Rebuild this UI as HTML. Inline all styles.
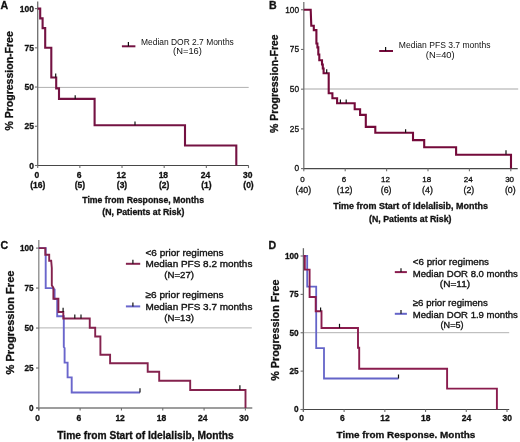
<!DOCTYPE html>
<html><head><meta charset="utf-8"><style>
html,body{margin:0;padding:0;background:#fff;}
svg{display:block;}
text{font-family:"Liberation Sans",sans-serif;fill:#111;}
text[font-weight="bold"]{stroke:#111;stroke-width:0.3px;}
svg{filter:blur(0.3px);}
</style></head><body>
<svg width="520" height="442" viewBox="0 0 520 442">
<rect width="520" height="442" fill="#fff"/>
<text x="0.6" y="9.3" font-size="10.6" font-weight="bold" text-anchor="start">A</text>
<line x1="37.7" y1="87.4" x2="248.7" y2="87.4" stroke="#b0b0b0" stroke-width="1.0"/>
<line x1="37.7" y1="1.5" x2="37.7" y2="166.1" stroke="#6e6e6e" stroke-width="1.3"/>
<line x1="37.1" y1="165.5" x2="248.7" y2="165.5" stroke="#484848" stroke-width="1.2"/>
<line x1="34.9" y1="8.6" x2="37.7" y2="8.6" stroke="#6e6e6e" stroke-width="1.1"/>
<text x="34" y="11.6" font-size="8.5" font-weight="bold" text-anchor="end">100</text>
<line x1="34.9" y1="47.83" x2="37.7" y2="47.83" stroke="#6e6e6e" stroke-width="1.1"/>
<text x="34" y="50.83" font-size="8.5" font-weight="bold" text-anchor="end">75</text>
<line x1="34.9" y1="87.05" x2="37.7" y2="87.05" stroke="#6e6e6e" stroke-width="1.1"/>
<text x="34" y="90.05" font-size="8.5" font-weight="bold" text-anchor="end">50</text>
<line x1="34.9" y1="126.27" x2="37.7" y2="126.27" stroke="#6e6e6e" stroke-width="1.1"/>
<text x="34" y="129.27" font-size="8.5" font-weight="bold" text-anchor="end">25</text>
<line x1="34.9" y1="165.5" x2="37.7" y2="165.5" stroke="#6e6e6e" stroke-width="1.1"/>
<text x="34" y="168.5" font-size="8.5" font-weight="bold" text-anchor="end">0</text>
<line x1="37.7" y1="165.5" x2="37.7" y2="168.1" stroke="#6e6e6e" stroke-width="1.1"/>
<text x="36.9" y="177.9" font-size="8.5" font-weight="bold" text-anchor="middle">0</text>
<text x="37.7" y="188.3" font-size="8.5" font-weight="bold" text-anchor="middle">(16)</text>
<line x1="79.86" y1="165.5" x2="79.86" y2="168.1" stroke="#6e6e6e" stroke-width="1.1"/>
<text x="79.06" y="177.9" font-size="8.5" font-weight="bold" text-anchor="middle">6</text>
<text x="79.86" y="188.3" font-size="8.5" font-weight="bold" text-anchor="middle">(5)</text>
<line x1="122.02" y1="165.5" x2="122.02" y2="168.1" stroke="#6e6e6e" stroke-width="1.1"/>
<text x="121.22" y="177.9" font-size="8.5" font-weight="bold" text-anchor="middle">12</text>
<text x="122.02" y="188.3" font-size="8.5" font-weight="bold" text-anchor="middle">(3)</text>
<line x1="164.18" y1="165.5" x2="164.18" y2="168.1" stroke="#6e6e6e" stroke-width="1.1"/>
<text x="163.38" y="177.9" font-size="8.5" font-weight="bold" text-anchor="middle">18</text>
<text x="164.18" y="188.3" font-size="8.5" font-weight="bold" text-anchor="middle">(2)</text>
<line x1="206.34" y1="165.5" x2="206.34" y2="168.1" stroke="#6e6e6e" stroke-width="1.1"/>
<text x="205.54" y="177.9" font-size="8.5" font-weight="bold" text-anchor="middle">24</text>
<text x="206.34" y="188.3" font-size="8.5" font-weight="bold" text-anchor="middle">(1)</text>
<line x1="248.5" y1="165.5" x2="248.5" y2="168.1" stroke="#6e6e6e" stroke-width="1.1"/>
<text x="247.7" y="177.9" font-size="8.5" font-weight="bold" text-anchor="middle">30</text>
<text x="248.5" y="188.3" font-size="8.5" font-weight="bold" text-anchor="middle">(0)</text>
<text x="82.3" y="202.8" font-size="8.7" font-weight="bold" text-anchor="start" textLength="121.7" lengthAdjust="spacingAndGlyphs">Time from Response, Months</text>
<text x="102.3" y="215.4" font-size="8.7" font-weight="bold" text-anchor="start" textLength="82.1" lengthAdjust="spacingAndGlyphs">(N, Patients at Risk)</text>
<text transform="translate(13.2,80.9) rotate(-90)" font-size="10.4" font-weight="bold" text-anchor="middle" textLength="99.3" lengthAdjust="spacingAndGlyphs">% Progression-Free</text>
<polyline points="37.7,8.6 40.2,8.6 40.2,18.4 42.6,18.4 42.6,28.1 45.2,28.1 45.2,47.8 51.3,47.8 51.3,77.5 56.2,77.5 56.2,88.4 59,88.4 59,98.9 94.6,98.9 94.6,125.3 185,125.3 185,145.5 236.3,145.5 236.3,165.5" fill="none" stroke="#741242" stroke-width="2.1" stroke-linejoin="miter" stroke-linecap="butt"/>
<line x1="55.7" y1="73.4" x2="55.7" y2="77.5" stroke="#111" stroke-width="1.2"/>
<line x1="75.2" y1="95.2" x2="75.2" y2="98.9" stroke="#111" stroke-width="1.2"/>
<line x1="135" y1="121.6" x2="135" y2="125.3" stroke="#111" stroke-width="1.2"/>
<line x1="121.9" y1="46.3" x2="135.4" y2="46.3" stroke="#741242" stroke-width="2.0"/>
<line x1="128.4" y1="42" x2="128.4" y2="46.3" stroke="#111" stroke-width="1.2"/>
<text x="141" y="44.6" font-size="8.8" font-weight="normal" text-anchor="start" textLength="92.8" lengthAdjust="spacingAndGlyphs">Median DOR 2.7 Months</text>
<text x="173.1" y="54" font-size="8.8" font-weight="normal" text-anchor="start" textLength="28.8" lengthAdjust="spacingAndGlyphs">(N=16)</text>
<text x="268.9" y="9.3" font-size="10.6" font-weight="bold" text-anchor="start">B</text>
<line x1="303.8" y1="89" x2="518.2" y2="89" stroke="#a8a8a8" stroke-width="1.1"/>
<line x1="303.8" y1="2" x2="303.8" y2="169.2" stroke="#767676" stroke-width="1.3"/>
<line x1="303.2" y1="168.6" x2="517.7" y2="168.6" stroke="#484848" stroke-width="1.2"/>
<line x1="301" y1="9.75" x2="303.8" y2="9.75" stroke="#6e6e6e" stroke-width="1.1"/>
<text x="299" y="12.55" font-size="8.3" font-weight="normal" text-anchor="end" stroke="#111" stroke-width="0.3">100</text>
<line x1="301" y1="49.46" x2="303.8" y2="49.46" stroke="#6e6e6e" stroke-width="1.1"/>
<text x="299" y="52.26" font-size="8.3" font-weight="normal" text-anchor="end" stroke="#111" stroke-width="0.3">75</text>
<line x1="301" y1="89.17" x2="303.8" y2="89.17" stroke="#6e6e6e" stroke-width="1.1"/>
<text x="299" y="91.97" font-size="8.3" font-weight="normal" text-anchor="end" stroke="#111" stroke-width="0.3">50</text>
<line x1="301" y1="128.89" x2="303.8" y2="128.89" stroke="#6e6e6e" stroke-width="1.1"/>
<text x="299" y="131.69" font-size="8.3" font-weight="normal" text-anchor="end" stroke="#111" stroke-width="0.3">25</text>
<line x1="301" y1="168.6" x2="303.8" y2="168.6" stroke="#6e6e6e" stroke-width="1.1"/>
<text x="299" y="171.4" font-size="8.3" font-weight="normal" text-anchor="end" stroke="#111" stroke-width="0.3">0</text>
<line x1="303.8" y1="168.6" x2="303.8" y2="171.2" stroke="#6e6e6e" stroke-width="1.1"/>
<text x="302.6" y="182.1" font-size="8.0" font-weight="normal" text-anchor="middle" stroke="#111" stroke-width="0.3">0</text>
<text x="303.3" y="193" font-size="8.8" font-weight="normal" text-anchor="middle" stroke="#111" stroke-width="0.3">(40)</text>
<line x1="345.2" y1="168.6" x2="345.2" y2="171.2" stroke="#6e6e6e" stroke-width="1.1"/>
<text x="344" y="182.1" font-size="8.0" font-weight="normal" text-anchor="middle" stroke="#111" stroke-width="0.3">6</text>
<text x="344.7" y="193" font-size="8.8" font-weight="normal" text-anchor="middle" stroke="#111" stroke-width="0.3">(12)</text>
<line x1="386.6" y1="168.6" x2="386.6" y2="171.2" stroke="#6e6e6e" stroke-width="1.1"/>
<text x="385.4" y="182.1" font-size="8.0" font-weight="normal" text-anchor="middle" stroke="#111" stroke-width="0.3">12</text>
<text x="386.1" y="193" font-size="8.8" font-weight="normal" text-anchor="middle" stroke="#111" stroke-width="0.3">(6)</text>
<line x1="428" y1="168.6" x2="428" y2="171.2" stroke="#6e6e6e" stroke-width="1.1"/>
<text x="426.8" y="182.1" font-size="8.0" font-weight="normal" text-anchor="middle" stroke="#111" stroke-width="0.3">18</text>
<text x="427.5" y="193" font-size="8.8" font-weight="normal" text-anchor="middle" stroke="#111" stroke-width="0.3">(4)</text>
<line x1="469.4" y1="168.6" x2="469.4" y2="171.2" stroke="#6e6e6e" stroke-width="1.1"/>
<text x="468.2" y="182.1" font-size="8.0" font-weight="normal" text-anchor="middle" stroke="#111" stroke-width="0.3">24</text>
<text x="468.9" y="193" font-size="8.8" font-weight="normal" text-anchor="middle" stroke="#111" stroke-width="0.3">(2)</text>
<line x1="510.8" y1="168.6" x2="510.8" y2="171.2" stroke="#6e6e6e" stroke-width="1.1"/>
<text x="509.6" y="182.1" font-size="8.0" font-weight="normal" text-anchor="middle" stroke="#111" stroke-width="0.3">30</text>
<text x="510.3" y="193" font-size="8.8" font-weight="normal" text-anchor="middle" stroke="#111" stroke-width="0.3">(0)</text>
<text x="333.3" y="208.8" font-size="8.6" font-weight="bold" text-anchor="start" textLength="154.6" lengthAdjust="spacingAndGlyphs">Time from Start of Idelalisib, Months</text>
<text x="369.1" y="222" font-size="8.6" font-weight="bold" text-anchor="start" textLength="82.4" lengthAdjust="spacingAndGlyphs">(N, Patients at Risk)</text>
<text transform="translate(278.4,83.7) rotate(-90)" font-size="10.4" font-weight="bold" text-anchor="middle" textLength="98.5" lengthAdjust="spacingAndGlyphs">% Progression-Free</text>
<polyline points="303.8,9.75 310.7,9.75 311.3,25.7 313.8,25.7 313.8,30.1 316.4,30.1 316.4,43.5 317.4,43.5 317.4,47.4 318.3,47.4 318.3,54.5 319.3,54.5 319.3,60.2 322,60.2 322,64.5 322.8,64.5 322.8,68.5 323.6,68.5 323.6,73.2 328.7,73.2 328.7,93.2 332.4,93.2 332.4,98.2 337.1,98.2 337.1,103.2 354.7,103.2 354.7,109.2 360.1,109.2 360.1,114.9 365.8,114.9 365.8,126.9 375.3,126.9 375.3,132.8 413,132.8 413,140.1 424.2,140.1 424.2,147.3 456.1,147.3 456.1,154.8 511,154.8 511,168.6" fill="none" stroke="#740a3a" stroke-width="2.1" stroke-linejoin="miter" stroke-linecap="butt"/>
<line x1="326.7" y1="69.2" x2="326.7" y2="72.9" stroke="#111" stroke-width="1.2"/>
<line x1="340.4" y1="99.5" x2="340.4" y2="103.2" stroke="#111" stroke-width="1.2"/>
<line x1="346.2" y1="99.5" x2="346.2" y2="103.2" stroke="#111" stroke-width="1.2"/>
<line x1="405.6" y1="129.2" x2="405.6" y2="132.8" stroke="#111" stroke-width="1.2"/>
<line x1="506" y1="150.3" x2="506" y2="154.5" stroke="#111" stroke-width="1.2"/>
<line x1="379.2" y1="51" x2="393" y2="51" stroke="#740a3a" stroke-width="2.0"/>
<line x1="385.6" y1="47.1" x2="385.6" y2="51" stroke="#111" stroke-width="1.2"/>
<text x="398.8" y="48.1" font-size="8.8" font-weight="normal" text-anchor="start" textLength="91.7" lengthAdjust="spacingAndGlyphs">Median PFS 3.7 months</text>
<text x="425.8" y="58" font-size="8.8" font-weight="normal" text-anchor="start" textLength="28.9" lengthAdjust="spacingAndGlyphs">(N=40)</text>
<text x="0.4" y="249" font-size="10.6" font-weight="bold" text-anchor="start">C</text>
<line x1="38.8" y1="327.9" x2="251.8" y2="327.9" stroke="#b2b2b2" stroke-width="1.0"/>
<line x1="38.8" y1="240" x2="38.8" y2="410.4" stroke="#888" stroke-width="1.3"/>
<line x1="36.2" y1="408" x2="252.3" y2="408" stroke="#7c7c7c" stroke-width="1.3"/>
<line x1="36" y1="248.1" x2="38.8" y2="248.1" stroke="#6e6e6e" stroke-width="1.1"/>
<text x="33.6" y="251" font-size="8.2" font-weight="bold" text-anchor="end">100</text>
<line x1="36" y1="288.07" x2="38.8" y2="288.07" stroke="#6e6e6e" stroke-width="1.1"/>
<text x="33.6" y="290.97" font-size="8.2" font-weight="bold" text-anchor="end">75</text>
<line x1="36" y1="328.05" x2="38.8" y2="328.05" stroke="#6e6e6e" stroke-width="1.1"/>
<text x="33.6" y="330.95" font-size="8.2" font-weight="bold" text-anchor="end">50</text>
<line x1="36" y1="368.02" x2="38.8" y2="368.02" stroke="#6e6e6e" stroke-width="1.1"/>
<text x="33.6" y="370.92" font-size="8.2" font-weight="bold" text-anchor="end">25</text>
<line x1="36" y1="408" x2="38.8" y2="408" stroke="#6e6e6e" stroke-width="1.1"/>
<text x="33.6" y="410.9" font-size="8.2" font-weight="bold" text-anchor="end">0</text>
<line x1="38.8" y1="408" x2="38.8" y2="410.6" stroke="#6e6e6e" stroke-width="1.1"/>
<text x="37.5" y="420.9" font-size="8.5" font-weight="bold" text-anchor="middle">0</text>
<line x1="80.12" y1="408" x2="80.12" y2="410.6" stroke="#6e6e6e" stroke-width="1.1"/>
<text x="78.82" y="420.9" font-size="8.5" font-weight="bold" text-anchor="middle">6</text>
<line x1="121.44" y1="408" x2="121.44" y2="410.6" stroke="#6e6e6e" stroke-width="1.1"/>
<text x="120.14" y="420.9" font-size="8.5" font-weight="bold" text-anchor="middle">12</text>
<line x1="162.76" y1="408" x2="162.76" y2="410.6" stroke="#6e6e6e" stroke-width="1.1"/>
<text x="161.46" y="420.9" font-size="8.5" font-weight="bold" text-anchor="middle">18</text>
<line x1="204.08" y1="408" x2="204.08" y2="410.6" stroke="#6e6e6e" stroke-width="1.1"/>
<text x="202.78" y="420.9" font-size="8.5" font-weight="bold" text-anchor="middle">24</text>
<line x1="245.4" y1="408" x2="245.4" y2="410.6" stroke="#6e6e6e" stroke-width="1.1"/>
<text x="244.1" y="420.9" font-size="8.5" font-weight="bold" text-anchor="middle">30</text>
<text x="57.3" y="438.6" font-size="10.4" font-weight="bold" text-anchor="start" textLength="176.5" lengthAdjust="spacingAndGlyphs">Time from Start of Idelalisib, Months</text>
<text transform="translate(14.2,322.5) rotate(-90)" font-size="10.8" font-weight="bold" text-anchor="middle" textLength="103.9" lengthAdjust="spacingAndGlyphs">% Progression Free</text>
<polyline points="38.8,248.1 45.7,248.1 45.7,288.1 52.6,288.1 54.6,289.5 54.6,299 57.2,299 57.2,316.3 63.8,316.3 63.8,347 64.6,348 64.6,362.6 67.6,362.6 67.6,377.4 71.7,377.4 71.7,392.5 140,392.5" fill="none" stroke="#6a66cc" stroke-width="1.9" stroke-linejoin="miter" stroke-linecap="butt"/>
<polyline points="38.8,248.1 45.3,248.1 45.3,254.7 49.2,254.7 49.2,260.7 51.2,260.7 51.8,268 51.8,285.4 53.4,287.8 53.4,298.7 58.4,298.7 58.4,312 63.3,312 63.3,318.5 89.75,318.5 89.75,327.8 95.2,327.8 95.2,336.5 100.4,336.5 100.4,354.7 110.1,354.7 110.1,363.2 147.7,363.2 147.7,371.7 159.2,371.7 159.2,380.8 190.2,380.8 190.2,390 245.5,390 245.5,408" fill="none" stroke="#84224e" stroke-width="1.9" stroke-linejoin="miter" stroke-linecap="butt"/>
<line x1="63.1" y1="307.8" x2="63.1" y2="312" stroke="#111" stroke-width="1.2"/>
<line x1="74.8" y1="314.6" x2="74.8" y2="318.5" stroke="#111" stroke-width="1.2"/>
<line x1="81" y1="314.6" x2="81" y2="318.5" stroke="#111" stroke-width="1.2"/>
<line x1="239.9" y1="385.2" x2="239.9" y2="390" stroke="#111" stroke-width="1.2"/>
<line x1="140" y1="388.2" x2="140" y2="392.5" stroke="#111" stroke-width="1.2"/>
<line x1="125.9" y1="263.8" x2="140.2" y2="263.8" stroke="#84224e" stroke-width="2.0"/>
<line x1="132.9" y1="259.8" x2="132.9" y2="263.8" stroke="#111" stroke-width="1.2"/>
<line x1="125.9" y1="306.4" x2="140.2" y2="306.4" stroke="#6a66cc" stroke-width="2.0"/>
<line x1="132.9" y1="302.4" x2="132.9" y2="306.4" stroke="#111" stroke-width="1.2"/>
<text x="145.5" y="255.5" font-size="9.6" font-weight="normal" text-anchor="start" textLength="78.1" lengthAdjust="spacingAndGlyphs" stroke="#111" stroke-width="0.35">&lt;6 prior regimens</text>
<text x="145.5" y="267.1" font-size="9.6" font-weight="normal" text-anchor="start" textLength="106.9" lengthAdjust="spacingAndGlyphs" stroke="#111" stroke-width="0.35">Median PFS 8.2 months</text>
<text x="164.2" y="278.3" font-size="9.6" font-weight="normal" text-anchor="start" textLength="29.8" lengthAdjust="spacingAndGlyphs" stroke="#111" stroke-width="0.35">(N=27)</text>
<text x="145.5" y="298.3" font-size="9.6" font-weight="normal" text-anchor="start" textLength="78.1" lengthAdjust="spacingAndGlyphs" stroke="#111" stroke-width="0.35">≥6 prior regimens</text>
<text x="145.5" y="310.2" font-size="9.6" font-weight="normal" text-anchor="start" textLength="106.9" lengthAdjust="spacingAndGlyphs" stroke="#111" stroke-width="0.35">Median PFS 3.7 months</text>
<text x="164.2" y="321.3" font-size="9.6" font-weight="normal" text-anchor="start" textLength="29.8" lengthAdjust="spacingAndGlyphs" stroke="#111" stroke-width="0.35">(N=13)</text>
<text x="268.4" y="249" font-size="10.6" font-weight="bold" text-anchor="start">D</text>
<line x1="303.4" y1="332.7" x2="509.2" y2="332.7" stroke="#b2b2b2" stroke-width="1.0"/>
<line x1="303.4" y1="248.2" x2="303.4" y2="411.7" stroke="#666" stroke-width="1.3"/>
<line x1="300.8" y1="409.5" x2="509.2" y2="409.5" stroke="#464646" stroke-width="1.2"/>
<line x1="300.6" y1="256" x2="303.4" y2="256" stroke="#6e6e6e" stroke-width="1.1"/>
<text x="298.6" y="258.9" font-size="8.2" font-weight="bold" text-anchor="end">100</text>
<line x1="300.6" y1="294.38" x2="303.4" y2="294.38" stroke="#6e6e6e" stroke-width="1.1"/>
<text x="298.6" y="297.27" font-size="8.2" font-weight="bold" text-anchor="end">75</text>
<line x1="300.6" y1="332.75" x2="303.4" y2="332.75" stroke="#6e6e6e" stroke-width="1.1"/>
<text x="298.6" y="335.65" font-size="8.2" font-weight="bold" text-anchor="end">50</text>
<line x1="300.6" y1="371.12" x2="303.4" y2="371.12" stroke="#6e6e6e" stroke-width="1.1"/>
<text x="298.6" y="374.02" font-size="8.2" font-weight="bold" text-anchor="end">25</text>
<line x1="300.6" y1="409.5" x2="303.4" y2="409.5" stroke="#6e6e6e" stroke-width="1.1"/>
<text x="298.6" y="412.4" font-size="8.2" font-weight="bold" text-anchor="end">0</text>
<line x1="303.4" y1="409.5" x2="303.4" y2="411.9" stroke="#6e6e6e" stroke-width="1.1"/>
<text x="301.6" y="421.4" font-size="8.5" font-weight="bold" text-anchor="middle">0</text>
<line x1="344.12" y1="409.5" x2="344.12" y2="411.9" stroke="#6e6e6e" stroke-width="1.1"/>
<text x="342.32" y="421.4" font-size="8.5" font-weight="bold" text-anchor="middle">6</text>
<line x1="384.84" y1="409.5" x2="384.84" y2="411.9" stroke="#6e6e6e" stroke-width="1.1"/>
<text x="385.04" y="421.4" font-size="8.5" font-weight="bold" text-anchor="middle">12</text>
<line x1="425.56" y1="409.5" x2="425.56" y2="411.9" stroke="#6e6e6e" stroke-width="1.1"/>
<text x="425.76" y="421.4" font-size="8.5" font-weight="bold" text-anchor="middle">18</text>
<line x1="466.28" y1="409.5" x2="466.28" y2="411.9" stroke="#6e6e6e" stroke-width="1.1"/>
<text x="466.48" y="421.4" font-size="8.5" font-weight="bold" text-anchor="middle">24</text>
<line x1="507" y1="409.5" x2="507" y2="411.9" stroke="#6e6e6e" stroke-width="1.1"/>
<text x="507.2" y="421.4" font-size="8.5" font-weight="bold" text-anchor="middle">30</text>
<text x="336.5" y="438" font-size="9.9" font-weight="bold" text-anchor="start" textLength="138.9" lengthAdjust="spacingAndGlyphs">Time from Response. Months</text>
<text transform="translate(279.0,330.1) rotate(-90)" font-size="10.6" font-weight="bold" text-anchor="middle" textLength="101.3" lengthAdjust="spacingAndGlyphs">% Progression Free</text>
<polyline points="303.4,256 307.2,256 307.2,286.7 316.2,286.7 316.2,348.2 324,348.2 324,378.5 398.5,378.5" fill="none" stroke="#6464c8" stroke-width="1.8" stroke-linejoin="miter" stroke-linecap="butt"/>
<polyline points="303.4,256 304.8,256 304.8,269.6 309.6,269.6 309.6,297 315.7,297 315.7,311.3 321.5,311.3 321.5,328 358,328 358,347.8 359.2,347.8 359.2,368.8 447.1,368.8 447.1,388.6 496.9,388.6 496.9,409.5" fill="none" stroke="#8a1c4e" stroke-width="1.9" stroke-linejoin="miter" stroke-linecap="butt"/>
<line x1="320.6" y1="307.6" x2="320.6" y2="311.3" stroke="#111" stroke-width="1.2"/>
<line x1="339.5" y1="323.8" x2="339.5" y2="328" stroke="#111" stroke-width="1.2"/>
<line x1="398.5" y1="374.5" x2="398.5" y2="378.5" stroke="#111" stroke-width="1.2"/>
<line x1="394.8" y1="272.1" x2="406.9" y2="272.1" stroke="#8a1c4e" stroke-width="2.0"/>
<line x1="401" y1="268.2" x2="401" y2="272.1" stroke="#111" stroke-width="1.2"/>
<line x1="394.8" y1="313.8" x2="406.9" y2="313.8" stroke="#6464c8" stroke-width="2.0"/>
<line x1="401" y1="309.9" x2="401" y2="313.8" stroke="#111" stroke-width="1.2"/>
<text x="412.8" y="264.8" font-size="9.4" font-weight="normal" text-anchor="start" textLength="76.2" lengthAdjust="spacingAndGlyphs" stroke="#111" stroke-width="0.35">&lt;6 prior regimens</text>
<text x="412.8" y="276.8" font-size="9.4" font-weight="normal" text-anchor="start" textLength="105.1" lengthAdjust="spacingAndGlyphs" stroke="#111" stroke-width="0.35">Median DOR 8.0 months</text>
<text x="439.8" y="286.9" font-size="9.4" font-weight="normal" text-anchor="start" textLength="30.4" lengthAdjust="spacingAndGlyphs" stroke="#111" stroke-width="0.35">(N=11)</text>
<text x="412.8" y="305.7" font-size="9.4" font-weight="normal" text-anchor="start" textLength="75.0" lengthAdjust="spacingAndGlyphs" stroke="#111" stroke-width="0.35">≥6 prior regimens</text>
<text x="412.8" y="317.8" font-size="9.4" font-weight="normal" text-anchor="start" textLength="105.1" lengthAdjust="spacingAndGlyphs" stroke="#111" stroke-width="0.35">Median DOR 1.9 months</text>
<text x="440.6" y="327.9" font-size="9.4" font-weight="normal" text-anchor="start" textLength="22.9" lengthAdjust="spacingAndGlyphs" stroke="#111" stroke-width="0.35">(N=5)</text>
</svg>
</body></html>
